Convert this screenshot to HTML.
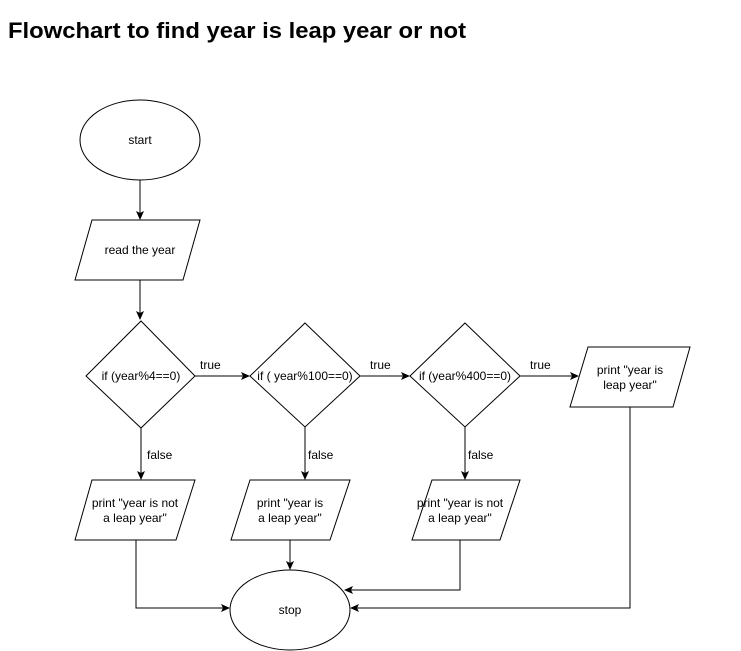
<!DOCTYPE html>
<html><head><style>
body{margin:0;background:#fff;width:741px;height:651px;overflow:hidden}
svg{position:absolute;left:0;top:0}
text{font-family:"Liberation Sans",Arial,sans-serif;font-size:12px;fill:#000}
</style></head><body>
<svg width="741" height="651" viewBox="0 0 741 651">
<defs><marker id="a" markerWidth="10" markerHeight="10" refX="8" refY="5" orient="auto" markerUnits="userSpaceOnUse"><path d="M0,1 L9,5 L0,9 L2,5 Z" fill="#000"/></marker></defs>
<text x="8" y="38" textLength="458" lengthAdjust="spacingAndGlyphs" style="font-size:22px;font-weight:bold">Flowchart to find year is leap year or not</text>
<g fill="#fff" stroke="#000" stroke-width="1">
<ellipse cx="140" cy="140" rx="60" ry="40"/>
<polygon points="92,220 200,220 183,280 75,280"/>
<polygon points="141,321 195,376 141,428 86,376"/>
<polygon points="305,323 360,376 305,427 250,376"/>
<polygon points="465,323 520,376 465,427 410,376"/>
<polygon points="588,347 690,347 673,407 570,407"/>
<polygon points="92,480 195,480 176,540 75,540"/>
<polygon points="250,480 350,480 330,540 231,540"/>
<polygon points="432,480 520,480 500,540 412,540"/>
<ellipse cx="290" cy="610" rx="60" ry="40"/>
</g>
<g stroke="#000" fill="none" stroke-width="1">
<path d="M140,180 V219" marker-end="url(#a)"/>
<path d="M140,280 V319" marker-end="url(#a)"/>
<path d="M195,376 H249" marker-end="url(#a)"/>
<path d="M360,376 H409" marker-end="url(#a)"/>
<path d="M520,376 H578" marker-end="url(#a)"/>
<path d="M141,428 V479" marker-end="url(#a)"/>
<path d="M305,427 V479" marker-end="url(#a)"/>
<path d="M465,427 V479" marker-end="url(#a)"/>
<path d="M136,540 V608 H229" marker-end="url(#a)"/>
<path d="M290,540 V569" marker-end="url(#a)"/>
<path d="M460,540 V590 H345" marker-end="url(#a)"/>
<path d="M630,407 V608 H351" marker-end="url(#a)"/>
</g>
<g text-anchor="middle">
<text x="140" y="144">start</text>
<text x="140" y="254">read the year</text>
<text x="141" y="380">if (year%4==0)</text>
<text x="305" y="380">if ( year%100==0)</text>
<text x="465" y="380">if (year%400==0)</text>
<text x="630" y="374">print "year is</text>
<text x="630" y="389">leap year"</text>
<text x="135" y="507">print "year is not</text>
<text x="135" y="522">a leap year"</text>
<text x="290" y="507">print "year is</text>
<text x="290" y="522">a leap year"</text>
<text x="460" y="507">print "year is not</text>
<text x="460" y="522">a leap year"</text>
<text x="290" y="614">stop</text>
</g>
<text x="200" y="369">true</text>
<text x="370" y="369">true</text>
<text x="530" y="369">true</text>
<text x="147" y="459">false</text>
<text x="308" y="459">false</text>
<text x="468" y="459">false</text>
</svg>
</body></html>
